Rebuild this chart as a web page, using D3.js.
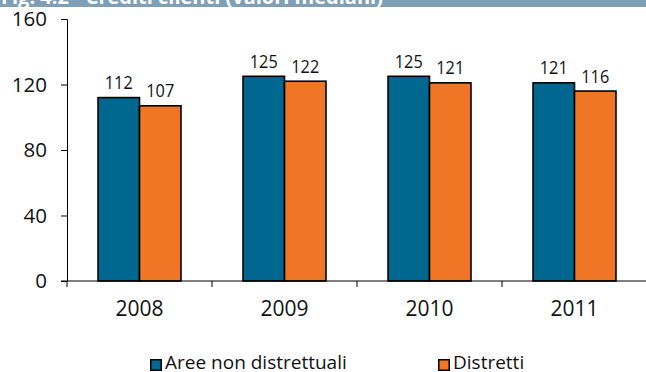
<!DOCTYPE html>
<html><head><meta charset="utf-8">
<script src="https://cdn.jsdelivr.net/npm/d3@7"></script>
<style>body{margin:0;background:#fff;}svg{display:block;font-family:"Open Sans",sans-serif;}</style>
</head><body>
<svg id="c" width="646" height="372"></svg>
<script>
const categories = ["2008","2009","2010","2011"];
const seriesNames = ["Aree non distrettuali","Distretti"];
const areeNonDistrettuali = [112,125,125,121];
const distretti = [107,122,121,116];
const yTicks = [0,40,80,120,160];
const colors = ["#006890","#F07525"];
const titleText = "Fig. 4.2 - Crediti clienti (valori mediani)";

const svg = d3.select("#c");
// title band (cut off)
svg.append("rect").attr("x",0).attr("y",0).attr("width",646).attr("height",7).attr("fill","#7F9FB6");
svg.append("text").attr("x",1).attr("y",3.5).attr("fill","#fff").attr("font-weight","bold")
  .attr("font-size",20).text(titleText);

const x0 = d3.scaleBand().domain(categories).range([67,647]).paddingInner(0.428).paddingOuter(0.214);
const x1 = d3.scaleBand().domain([0,1]).range([0,x0.bandwidth()]);
const y = d3.scaleLinear().domain([0,160]).range([281,19]);

const series = [areeNonDistrettuali, distretti];
categories.forEach((c,i)=>{
  series.forEach((s,j)=>{
    svg.append("rect").attr("x",x0(c)+x1(j)).attr("y",y(s[i]))
      .attr("width",x1.bandwidth()).attr("height",y(0)-y(s[i]))
      .attr("fill",colors[j]).attr("stroke","#000").attr("stroke-width",1.6);
    const cx = x0(c)+x1(j)+x1.bandwidth()/2, cy = y(s[i])-8.5;
    svg.append("text").attr("transform",`translate(${cx},${cy}) scale(0.88,1)`)
      .attr("text-anchor","middle").attr("font-size",18.5).attr("fill","#111").text(s[i]);
  });
});

// y axis
const ya = svg.append("g").attr("transform","translate(67,0)")
  .call(d3.axisLeft(y).tickValues(yTicks).tickSize(6).tickPadding(14));
ya.selectAll("text").attr("font-size",20.5).attr("fill","#111").attr("font-family","Open Sans");
ya.selectAll("line,path").attr("stroke","#000");
ya.select("path").attr("d","M-6,19.5H0.5V281");

// x axis
const xa = svg.append("g").attr("transform","translate(0,281)");
xa.append("line").attr("x1",61).attr("x2",646).attr("stroke","#000").attr("stroke-width",1.2);
xa.selectAll("line.t").data(categories).enter().append("line").attr("class","t")
  .attr("x1",c=>x0(c)-(x0.step()-x0.bandwidth())/2).attr("x2",c=>x0(c)-(x0.step()-x0.bandwidth())/2)
  .attr("y1",0).attr("y2",6).attr("stroke","#000");
xa.selectAll("text").data(categories).enter().append("text")
  .attr("x",c=>x0(c)+x0.bandwidth()/2).attr("y",35).attr("text-anchor","middle")
  .attr("font-size",21).attr("fill","#111").text(c=>c);

// legend
const legX = [150,438];
seriesNames.forEach((n,j)=>{
  svg.append("rect").attr("x",legX[j]+0.75).attr("y",359.75).attr("width",10.5).attr("height",10.5)
    .attr("fill",colors[j]).attr("stroke","#000").attr("stroke-width",1.5);
  svg.append("text").attr("x",legX[j]+15).attr("y",368.5).attr("font-size",19).attr("fill","#111").text(n);
});
</script>
</body></html>
